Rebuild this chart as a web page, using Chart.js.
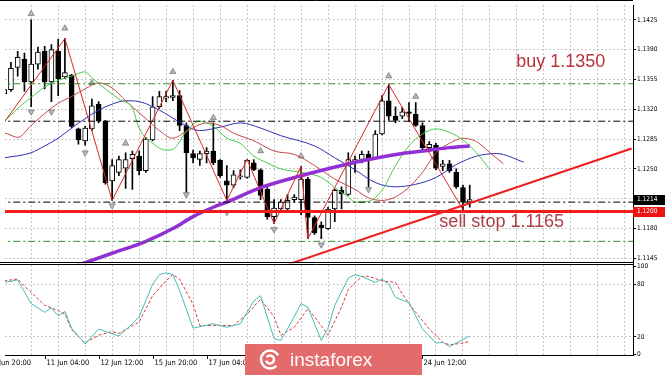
<!DOCTYPE html>
<html>
<head>
<meta charset="utf-8">
<title>EURUSD H4</title>
<script src="https://cdn.jsdelivr.net/npm/chart.js@4/dist/chart.umd.min.js"></script>
<style>
  html, body { margin: 0; padding: 0; background: #fff; }
  canvas { display: block; }
</style>
</head>
<body>
<canvas id="chart" width="665" height="375"></canvas>
<script>
// H4 candles. Bar 0 = 9 Jun 20:00, first visible bar is 2.
const firstBar = 2;
const opens = [
  1.1338, 1.1343, 1.1369, 1.1379, 1.1352, 1.1373, 1.1388, 1.1352, 1.1388, 1.1358,
  1.1360, 1.1297, 1.1283, 1.1297, 1.1326, 1.1306, 1.1236, 1.1246, 1.1251, 1.1262,
  1.1265, 1.1248, 1.1284, 1.1323, 1.1333, 1.1334, 1.1336, 1.1301, 1.1268, 1.1261,
  1.1268, 1.1271, 1.1260, 1.1236, 1.1231, 1.1241, 1.1240, 1.1257, 1.1249, 1.1226,
  1.1194, 1.1203, 1.1203, 1.1214, 1.1214, 1.1238, 1.1193, 1.1184, 1.1180, 1.1203,
  1.1225, 1.1220, 1.1257, 1.1261, 1.1267, 1.1263, 1.1291, 1.1330, 1.1312, 1.1312,
  1.1317, 1.1314, 1.1301, 1.1275, 1.1278, 1.1253, 1.1256, 1.1246, 1.1228, 1.1211];
const highs = [
  1.1345, 1.1375, 1.1388, 1.1386, 1.1425, 1.1393, 1.1394, 1.1396, 1.1402, 1.1403,
  1.1361, 1.1298, 1.1300, 1.1332, 1.1329, 1.1307, 1.1261, 1.1265, 1.1269, 1.1271,
  1.1271, 1.1287, 1.1335, 1.1341, 1.1341, 1.1354, 1.1342, 1.1304, 1.1272, 1.1271,
  1.1275, 1.1304, 1.1261, 1.1254, 1.1248, 1.1249, 1.1261, 1.1261, 1.1250, 1.1228,
  1.1214, 1.1214, 1.1220, 1.1220, 1.1253, 1.1240, 1.1195, 1.1188, 1.1205, 1.1226,
  1.1229, 1.1269, 1.1265, 1.1271, 1.1271, 1.1295, 1.1336, 1.1349, 1.1323, 1.1322,
  1.1328, 1.1328, 1.1304, 1.1282, 1.1280, 1.1260, 1.1260, 1.1250, 1.1231, 1.1231];
const lows = [
  1.1336, 1.1341, 1.1359, 1.1341, 1.1323, 1.1367, 1.1344, 1.1329, 1.1336, 1.1356,
  1.1298, 1.1279, 1.1278, 1.1295, 1.1304, 1.1232, 1.1213, 1.1242, 1.1227, 1.1226,
  1.1243, 1.1246, 1.1283, 1.1321, 1.1329, 1.1330, 1.1295, 1.1217, 1.1257, 1.1254,
  1.1257, 1.1255, 1.1240, 1.1213, 1.1228, 1.1238, 1.1239, 1.1248, 1.1214, 1.1191,
  1.1186, 1.1202, 1.1202, 1.1211, 1.1196, 1.1168, 1.1173, 1.1168, 1.1179, 1.1188,
  1.1203, 1.1219, 1.1246, 1.1257, 1.1228, 1.1261, 1.1290, 1.1307, 1.1304, 1.1309,
  1.1306, 1.1300, 1.1272, 1.1271, 1.1249, 1.1248, 1.1246, 1.1227, 1.1202, 1.1205];
const closes = [
  1.1343, 1.1368, 1.1381, 1.1352, 1.1373, 1.1387, 1.1352, 1.1390, 1.1356, 1.1363,
  1.1300, 1.1284, 1.1298, 1.1324, 1.1306, 1.1234, 1.1254, 1.1261, 1.1261, 1.1267,
  1.1248, 1.1285, 1.1323, 1.1335, 1.1335, 1.1336, 1.1301, 1.1269, 1.1263, 1.1268,
  1.1271, 1.1257, 1.1242, 1.1231, 1.1243, 1.1242, 1.1260, 1.1249, 1.1219, 1.1194,
  1.1204, 1.1211, 1.1213, 1.1217, 1.1238, 1.1193, 1.1175, 1.1181, 1.1203, 1.1225,
  1.1221, 1.1261, 1.1261, 1.1267, 1.1261, 1.1291, 1.1330, 1.1312, 1.1307, 1.1317,
  1.1315, 1.1301, 1.1275, 1.1279, 1.1251, 1.1256, 1.1248, 1.1229, 1.1211, 1.1214];

// time axis
const dateLabels = ['9 Jun 20:00', '11 Jun 04:00', '12 Jun 12:00', '15 Jun 20:00', '17 Jun 04:00',
  '18 Jun 12:00', '19 Jun 20:00', '23 Jun 04:00', '24 Jun 12:00'];
const dateLabelBars = [0, 8, 16, 24, 32, 40, 48, 56, 64];

// value axes
const priceTicks = [1.1145, 1.1180, 1.1215, 1.1250, 1.1285, 1.1320, 1.1355, 1.1390, 1.1425];
const stochTicks = [0, 20, 80, 100];

// alligator (jaw / teeth / lips), already shifted forward
const jawBars = [0, 2, 6, 8, 10, 12, 14, 16, 18, 20, 22, 25, 28, 31, 34, 37, 40, 43, 48, 51, 54, 57, 60, 63, 66, 69, 72, 75, 79];
const jawValues = [1.1260, 1.1263, 1.1269, 1.1277, 1.1286, 1.1298, 1.1309, 1.1319, 1.1326, 1.1330,
  1.1329, 1.1319, 1.1305, 1.1295, 1.1299, 1.1304, 1.1298, 1.1289, 1.1277, 1.1263,
  1.1249, 1.1234, 1.1229, 1.1232, 1.1240, 1.1255, 1.1265, 1.1268, 1.1258];
const teethBars = [0, 2, 4, 6, 8, 10, 12, 14, 16, 18, 20, 23, 25, 27, 29, 32, 34, 36, 39, 42,
  45, 48, 51, 54, 56, 58, 61, 64, 66, 68, 70, 72, 74, 76];
const teethValues = [1.1290, 1.1292, 1.1287, 1.1301, 1.1315, 1.1327, 1.1335, 1.1344, 1.1351, 1.1345,
  1.1330, 1.1309, 1.1295, 1.1286, 1.1294, 1.1304, 1.1301, 1.1292, 1.1283, 1.1271,
  1.1267, 1.1254, 1.1238, 1.1226, 1.1216, 1.1213, 1.1222, 1.1246, 1.1269, 1.1280,
  1.1286, 1.1282, 1.1269, 1.1256];
const lipsBars = [0, 2, 4, 6, 8, 10, 12, 14, 15, 17, 19, 21, 22, 24, 26, 27, 29, 31, 33, 35,
  37, 39, 41, 43, 46, 49, 51, 53, 54, 56, 58, 60, 62, 64, 66, 68, 70, 72, 74];
const lipsValues = [1.1296, 1.1306, 1.1321, 1.1334, 1.1346, 1.1354, 1.1359, 1.1364, 1.1357, 1.1344,
  1.1332, 1.1321, 1.1298, 1.1280, 1.1272, 1.1273, 1.1294, 1.1306, 1.1300, 1.1286,
  1.1280, 1.1265, 1.1257, 1.1250, 1.1246, 1.1240, 1.1228, 1.1217, 1.1211, 1.1212,
  1.1225, 1.1254, 1.1277, 1.1291, 1.1297, 1.1293, 1.1284, 1.1269, 1.1249];

// slow moving average (thick purple)
const slowMaBars = [8, 14, 18, 23, 27, 30, 33, 35, 40, 46, 52, 56, 61, 65, 68, 71];
const slowMaValues = [1.1124, 1.1140, 1.1151, 1.1165, 1.1180, 1.1194, 1.1205, 1.1211, 1.1228, 1.1242,
  1.1254, 1.1261, 1.1268, 1.1272, 1.1275, 1.1277];

// zigzag turning points
const zigzagBars = [0, 11, 18, 27, 35, 38, 42, 46, 47, 59, 70];
const zigzagValues = [1.1283, 1.1403, 1.1213, 1.1354, 1.1213, 1.1261, 1.1186, 1.1253, 1.1168, 1.1349, 1.1202];

// fractal markers
const fractalUpBars = [6, 11, 15, 20, 27, 33, 40, 46, 59, 63];
const fractalUpValues = [1.1432, 1.1415, 1.1351, 1.1280, 1.1364, 1.1310, 1.1271, 1.1265, 1.1359, 1.1335];
const fractalDownBars = [6, 9, 14, 18, 29, 35, 42, 49, 56];
const fractalDownValues = [1.1317, 1.1317, 1.1269, 1.1207, 1.1220, 1.1199, 1.1179, 1.1161, 1.1226];

// drawn objects
const buyLevel = 1.1350;
const sellStopLevel = 1.1165;
const pivotLevels = [1.1306, 1.1211];
const supportLevel = 1.1200;
const trendBars = [43, 95];
const trendValues = [1.1135, 1.1274];

// stochastic
const stochMainBars = [1, 2, 4, 6, 8, 9, 10, 11, 12, 14, 16, 19, 21, 22, 24, 25, 26, 27, 28, 30,
  33, 35, 37, 39, 40, 42, 43, 44, 46, 47, 49, 50, 51, 53, 54, 55, 57, 58, 59, 60,
  62, 64, 66, 67, 68, 69, 71];
const stochMainValues = [82, 82, 85, 58, 48, 53, 44, 49, 30, 12, 29, 21, 35, 43, 80, 91, 93, 91, 73, 30,
  35, 31, 35, 61, 67, 18, 16, 29, 58, 54, 16, 30, 56, 87, 91, 89, 82, 86, 80, 65,
  59, 29, 13, 14, 9, 13, 21];
const stochSignalBars = [1, 2, 4, 5, 8, 10, 11, 12, 14, 16, 18, 19, 22, 24, 26, 27, 28, 30, 31, 33,
  36, 38, 40, 42, 43, 45, 47, 48, 50, 52, 53, 55, 56, 58, 60, 61, 63, 65, 67, 68, 70, 71];
const stochSignalValues = [84, 84, 86, 78, 56, 50, 46, 28, 13, 22, 26, 24, 37, 67, 84, 91, 86, 57, 33, 33,
  33, 46, 63, 43, 22, 31, 52, 43, 22, 54, 74, 89, 89, 84, 82, 69, 48, 29, 14, 11, 13, 15];

// ---------------------------------------------------------------------------

const bars = opens.map((_, i) => firstBar + i);
const pt = (xs, ys) => xs.map((x, i) => ({ x: x, y: ys[i] }));
const flat = v => [{ x: -10, y: v }, { x: 110, y: v }];

const gridGray = '#c6c6c6';
const smallFont = { family: '"Liberation Sans Narrow", "DejaVu Sans Condensed", "Liberation Sans", sans-serif', size: 6.5 };
const stochHeight = 93;
// clip each dataset to its own pane (v4 clips relative to the pane of its y axis)
const paneClip = { left: 0, top: 0, right: 0, bottom: 0 };

const gridBars = [];
for (let b = 4; b <= 92; b += 4) gridBars.push(b);

function priceLine(label, data, color, width, order, extra) {
  return Object.assign({
    type: 'line', label: label, data: data, borderColor: color, borderWidth: width,
    pointRadius: 0, fill: false, yAxisID: 'y', clip: paneClip, order: order
  }, extra || {});
}

const overlay = {
  id: 'overlay',
  afterDraw(chart) {
    const ctx = chart.ctx;
    const area = chart.chartArea;
    const x = chart.scales.x, y = chart.scales.y;
    ctx.save();

    // frame: top edge and the double line between the two panes
    const sep = Math.round(y.bottom);
    ctx.strokeStyle = '#000';
    ctx.lineWidth = 1;
    ctx.beginPath();
    ctx.moveTo(0, 0.5); ctx.lineTo(area.right, 0.5);
    ctx.moveTo(0, sep - 0.5); ctx.lineTo(area.right, sep - 0.5);
    ctx.moveTo(0, sep + 1.5); ctx.lineTo(area.right, sep + 1.5);
    ctx.stroke();

    // time labels, left-aligned on their tick
    ctx.font = '7.5px "Liberation Sans Narrow", "DejaVu Sans Condensed", "Liberation Sans", sans-serif';
    ctx.fillStyle = '#000';
    ctx.textAlign = 'left';
    ctx.textBaseline = 'middle';
    dateLabels.forEach((t, i) => {
      const px = Math.round(x.getPixelForValue(dateLabelBars[i])) + 0.5;
      ctx.beginPath();
      ctx.moveTo(px, area.bottom); ctx.lineTo(px, area.bottom + 4);
      ctx.stroke();
      ctx.fillText(t, px + 1, area.bottom + 8.5);
    });

    // price tags on the axis
    const tag = (value, bg) => {
      const py = y.getPixelForValue(value);
      ctx.fillStyle = bg;
      ctx.fillRect(area.right, Math.round(py) - 5, 32, 10);
      ctx.fillStyle = '#fff';
      ctx.font = '6.5px "Liberation Sans Narrow", "DejaVu Sans Condensed", "Liberation Sans", sans-serif';
      ctx.fillText(value.toFixed(4), area.right + 4, py);
    };
    tag(supportLevel, '#ee1414');
    tag(closes[closes.length - 1], '#000');

    // trade notes
    ctx.font = '18px "Liberation Sans", Arial, sans-serif';
    ctx.fillStyle = '#b8323c';
    ctx.fillText('buy 1.1350', x.getPixelForValue(77.9), y.getPixelForValue(1.1376));
    ctx.fillStyle = '#aa3d47';
    ctx.fillText('sell stop 1.1165', x.getPixelForValue(66.5), y.getPixelForValue(1.1188));

    // watermark banner
    ctx.fillStyle = '#e46b6b';
    ctx.fillRect(245, 344, 177, 31);
    ctx.strokeStyle = '#fff';
    ctx.lineWidth = 2.5;
    ctx.beginPath(); ctx.arc(270, 359.5, 9, 0.25 * Math.PI, 1.85 * Math.PI); ctx.stroke();
    ctx.beginPath(); ctx.arc(270, 359.5, 4, 1.2 * Math.PI, 2.9 * Math.PI); ctx.stroke();
    ctx.fillStyle = '#fff';
    ctx.font = '19px "Liberation Sans", Arial, sans-serif';
    ctx.textBaseline = 'alphabetic';
    ctx.fillText('instaforex', 290, 366);

    ctx.restore();
  }
};

new Chart(document.getElementById('chart'), {
  type: 'line',
  data: {
    datasets: [
      priceLine('trend', pt(trendBars, trendValues), '#f01c1c', 2, 1),
      priceLine('support', flat(supportLevel), '#f01c1c', 3, 2),
      priceLine('buy', flat(buyLevel), '#2f8f2f', 1, 3, { borderDash: [7, 3, 2, 3] }),
      priceLine('sell stop', flat(sellStopLevel), '#2f8f2f', 1, 4, { borderDash: [7, 3, 2, 3] }),
      priceLine('pivot hi', flat(pivotLevels[0]), '#000', 1, 5, { borderDash: [7, 3, 2, 3] }),
      priceLine('pivot lo', flat(pivotLevels[1]), '#000', 1, 6, { borderDash: [7, 3, 2, 3] }),
      priceLine('zigzag', pt(zigzagBars, zigzagValues), '#dc2626', 1, 10),
      priceLine('slow MA', pt(slowMaBars, slowMaValues), '#9130d4', 3.5, 11, { cubicInterpolationMode: 'monotone' }),
      priceLine('lips', pt(lipsBars, lipsValues), '#48cc48', 1, 12, { cubicInterpolationMode: 'monotone' }),
      priceLine('teeth', pt(teethBars, teethValues), '#c44848', 1, 13, { cubicInterpolationMode: 'monotone' }),
      priceLine('jaw', pt(jawBars, jawValues), '#3030b4', 1, 14, { cubicInterpolationMode: 'monotone' }),
      priceLine('fractals up', pt(fractalUpBars, fractalUpValues), '#909090', 1, 20, {
        showLine: false, pointStyle: 'triangle', pointRadius: 3.5,
        pointBackgroundColor: '#b8b8b8', pointBorderColor: '#8c8c8c', pointBorderWidth: 1 }),
      priceLine('fractals down', pt(fractalDownBars, fractalDownValues), '#909090', 1, 21, {
        showLine: false, pointStyle: 'triangle', pointRadius: 3.5, pointRotation: 180,
        pointBackgroundColor: '#b8b8b8', pointBorderColor: '#8c8c8c', pointBorderWidth: 1 }),
      {
        type: 'bar', label: 'bodies',
        data: bars.map((b, i) => ({ x: b, y: [opens[i], closes[i]] })),
        backgroundColor: bars.map((b, i) => closes[i] >= opens[i] ? '#fff' : '#000'),
        borderColor: '#000', borderWidth: 1, borderSkipped: false,
        barThickness: 5, grouped: false, yAxisID: 'y', clip: paneClip, order: 30
      },
      {
        type: 'bar', label: 'wicks',
        data: bars.map((b, i) => ({ x: b, y: [lows[i], highs[i]] })),
        backgroundColor: '#000', barThickness: 1, grouped: false,
        yAxisID: 'y', clip: paneClip, order: 31
      },
      {
        type: 'line', label: '%K', data: pt(stochMainBars, stochMainValues),
        borderColor: '#45bdb5', borderWidth: 1, pointRadius: 0, yAxisID: 'y2', order: 40
      },
      {
        type: 'line', label: '%D', data: pt(stochSignalBars, stochSignalValues),
        borderColor: '#d23c3c', borderWidth: 1, borderDash: [3, 2], pointRadius: 0, yAxisID: 'y2', order: 41
      }
    ]
  },
  options: {
    responsive: false,
    animation: false,
    devicePixelRatio: 1,
    layout: { padding: 0 },
    plugins: { legend: { display: false }, tooltip: { enabled: false } },
    scales: {
      x: {
        type: 'linear', min: 2.12, max: 95.2, offset: false,
        afterBuildTicks: s => { s.ticks = gridBars.map(v => ({ value: v })); },
        afterFit: s => { s.height = 20; s.paddingLeft = 0; s.paddingRight = 0; },
        grid: { color: gridGray, drawTicks: false },
        border: { display: true, color: '#000', dash: [2, 2] },
        ticks: { display: false }
      },
      y: {
        type: 'linear', position: 'right', stack: 'panes', stackWeight: 262,
        min: 1.11392, max: 1.14424,
        afterBuildTicks: s => { s.ticks = priceTicks.map(v => ({ value: v })); },
        afterFit: s => { s.width = 32; s.paddingTop = 0; s.paddingBottom = 0; },
        grid: { color: gridGray, tickLength: 3, tickColor: '#000' },
        border: { display: true, color: '#000', dash: [2, 2] },
        ticks: { color: '#000', padding: 1, font: smallFont, autoSkip: false, callback: v => v.toFixed(4) }
      },
      y2: {
        type: 'linear', position: 'right', stack: 'panes', stackWeight: stochHeight,
        min: -0.6, max: 103.9,
        afterBuildTicks: s => { s.ticks = stochTicks.map(v => ({ value: v })); },
        afterFit: s => { s.width = 32; s.paddingTop = 0; s.paddingBottom = 0; },
        grid: {
          color: c => (c.tick && (c.tick.value === 20 || c.tick.value === 80)) ? gridGray : 'rgba(0,0,0,0)',
          tickLength: 3, tickColor: '#000'
        },
        border: { display: true, color: '#000', dash: [2, 2] },
        ticks: { color: '#000', padding: 1, font: smallFont, autoSkip: false }
      }
    }
  },
  plugins: [overlay]
});
</script>
</body>
</html>
